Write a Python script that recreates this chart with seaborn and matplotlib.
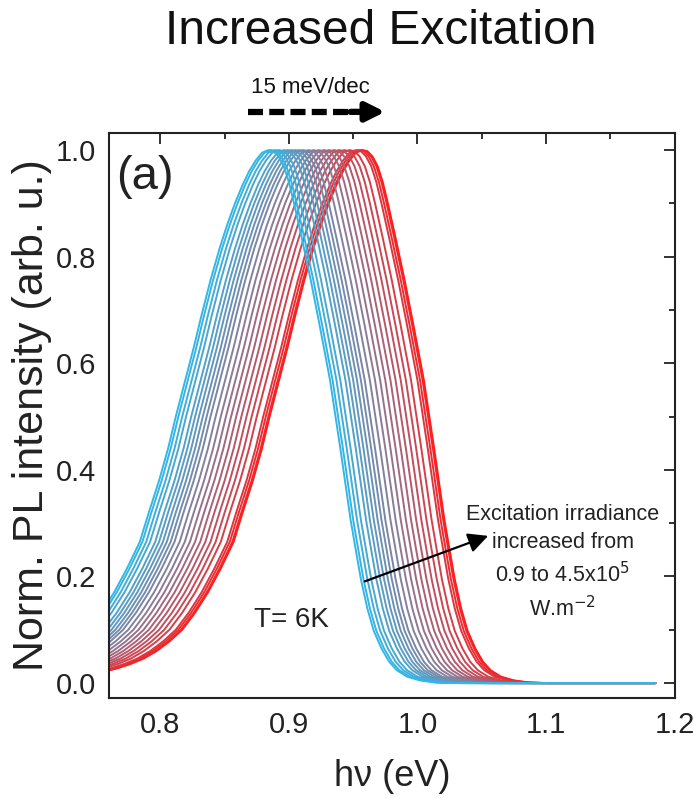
import matplotlib
matplotlib.use("Agg")
import matplotlib.pyplot as plt
from matplotlib.lines import Line2D
from matplotlib.colors import LinearSegmentedColormap
from matplotlib.ticker import MultipleLocator
import pandas as pd
import seaborn as sns

# ---- data ----
# common PL line shape: energy offset from the peak (eV) and normalised intensity
profile_offset = [-0.200, -0.190, -0.180, -0.170, -0.160, -0.150, -0.140, -0.130,
                  -0.120, -0.110, -0.100, -0.093, -0.085, -0.078, -0.072, -0.065,
                  -0.058, -0.052, -0.045, -0.038, -0.032, -0.026, -0.020, -0.015,
                  -0.010, -0.005, 0.000, 0.004, 0.008, 0.012, 0.016, 0.020,
                  0.026, 0.033, 0.040, 0.048, 0.056, 0.064, 0.068, 0.072,
                  0.077, 0.082, 0.088, 0.094, 0.100, 0.108, 0.118, 0.130, 0.145]
profile_intensity = [0.022, 0.028, 0.036, 0.046, 0.060, 0.078, 0.100, 0.132,
                     0.170, 0.215, 0.265, 0.320, 0.380, 0.440, 0.500, 0.565,
                     0.630, 0.690, 0.756, 0.815, 0.860, 0.900, 0.935, 0.960,
                     0.980, 0.995, 1.000, 0.998, 0.988, 0.970, 0.940, 0.900,
                     0.835, 0.756, 0.670, 0.568, 0.440, 0.306, 0.250, 0.195,
                     0.140, 0.098, 0.065, 0.040, 0.024, 0.012, 0.005, 0.001, 0.000]
# peak energies (eV), lowest to highest excitation irradiance
peak_energy = [0.884, 0.886, 0.889, 0.892, 0.896, 0.899, 0.902, 0.905, 0.908,
               0.911, 0.915, 0.919, 0.923, 0.927, 0.931, 0.935, 0.939, 0.943,
               0.947, 0.952, 0.954, 0.956, 0.957]
baseline_end = 1.185

x_ticks = [0.8, 0.9, 1.0, 1.1, 1.2]
y_ticks = [0.0, 0.2, 0.4, 0.6, 0.8, 1.0]

# ---- build long-form table ----
rows = []
for i, e0 in enumerate(peak_energy):
    for off, val in zip(profile_offset, profile_intensity):
        rows.append({"curve": i, "energy": e0 + off, "intensity": val})
    rows.append({"curve": i, "energy": baseline_end, "intensity": 0.0})
df = pd.DataFrame(rows)

sns.set_style("white")
plt.rcParams["font.family"] = ["Liberation Sans", "DejaVu Sans"]

cmap = LinearSegmentedColormap.from_list("exc", ["#30B8E8", "#8C7B97", "#FF1C1C"])
n = len(peak_energy)
palette = {i: cmap(i / (n - 1)) for i in range(n)}

fig = plt.figure(figsize=(6.94, 7.99), dpi=100)
ax = fig.add_axes([0.157, 0.1264, 0.815, 0.7071])

sns.lineplot(data=df, x="energy", y="intensity", hue="curve", palette=palette,
             hue_order=list(range(n))[::-1], estimator=None, sort=False,
             legend=False, lw=1.4, ax=ax)

ax.set_xlim(0.76, 1.2)
ax.set_ylim(-0.028, 1.032)
ax.set_xticks(x_ticks)
ax.set_xticklabels([f"{v:.1f}" for v in x_ticks])
ax.set_yticks(y_ticks)
ax.set_yticklabels([f"{v:.1f}" for v in y_ticks])
ax.xaxis.set_minor_locator(MultipleLocator(0.05))
ax.yaxis.set_minor_locator(MultipleLocator(0.1))
ax.tick_params(which="both", direction="in", top=True, right=True, width=1.3,
               color="#222222", labelsize=21, pad=9, labelcolor="#222222")
ax.tick_params(which="major", length=8)
ax.tick_params(which="minor", length=4)
for s in ax.spines.values():
    s.set_linewidth(1.5)
    s.set_color("#222222")

ax.set_xlabel("h\u03bd (eV)", fontsize=26, labelpad=15, color="#222222")
ax.set_ylabel("Norm. PL intensity (arb. u.)", fontsize=31, labelpad=3, color="#222222")

ax.text(0.788, 0.949, "(a)", fontsize=34, ha="center", va="center", color="#222222")
ax.text(0.902, 0.118, "T= 6K", fontsize=20, ha="center", va="center", color="#222222")
ax.text(1.113, 0.226, "Excitation irradiance\nincreased from\n0.9 to 4.5x10$^{5}$\nW.m$^{-2}$",
        fontsize=15.5, ha="center", va="center", linespacing=1.45, color="#222222")
ax.annotate("", xy=(1.057, 0.278), xytext=(0.957, 0.189),
            arrowprops=dict(arrowstyle="-|>", lw=1.6, color="black", mutation_scale=30))

fig.text(0.548, 0.960, "Increased Excitation", fontsize=34.5, ha="center", va="center",
         color="#111111")
fig.text(0.447, 0.890, "15 meV/dec", fontsize=16, ha="center", va="center", color="#111111")
fig.add_artist(Line2D([0.357, 0.51], [0.860, 0.860], transform=fig.transFigure,
                      color="black", lw=4.5, linestyle=(0, (2.4, 1.0))))
ax.annotate("", xy=(0.555, 0.860), xytext=(0.505, 0.860), xycoords="figure fraction",
            textcoords="figure fraction",
            arrowprops=dict(arrowstyle="-|>", lw=4.5, color="black", mutation_scale=28,
                            shrinkA=0, shrinkB=0))

fig.savefig("out.png", dpi=100)
